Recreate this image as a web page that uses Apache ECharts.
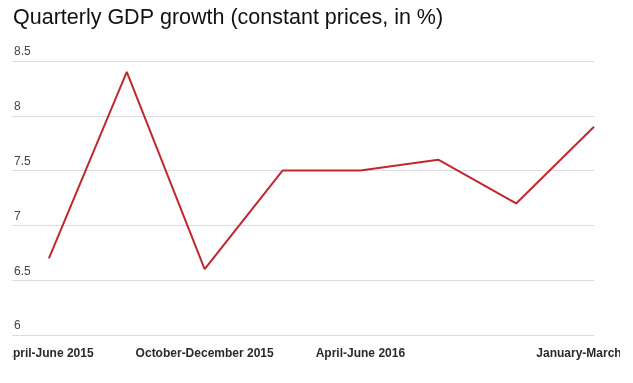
<!DOCTYPE html>
<html>
<head>
<meta charset="utf-8">
<script src="https://cdn.jsdelivr.net/npm/echarts@6/dist/echarts.min.js"></script>
<style>
html,body{margin:0;padding:0;background:#fff;width:633px;height:383px;overflow:hidden;}
#c{position:absolute;left:12px;top:0;width:608px;height:383px;}
</style>
</head>
<body>
<div id="c"></div>
<script>
const categories = ["April-June 2015","July-September 2015","October-December 2015","January-March 2016","April-June 2016","July-September 2016","October-December 2016","January-March 2017"];
const growth = [6.7, 8.4, 6.6, 7.5, 7.5, 7.6, 7.2, 7.9];
const shownLabels = [0, 2, 4, 7];
const titleText = "Quarterly GDP growth (constant prices, in %)";

const chart = echarts.init(document.getElementById('c'), null, {renderer:'canvas'});
const font = "'Liberation Sans', Arial, sans-serif";
chart.setOption({
  animation:false,
  backgroundColor:'#fff',
  title:{text:titleText,left:1,top:7,padding:0,textStyle:{fontSize:21.5,fontWeight:'normal',color:'#111',fontFamily:font}},
  grid:{left:0,right:26,top:61,bottom:48,containLabel:false,outerBoundsMode:'none'},
  xAxis:{type:'value',min:-0.474,max:7,
    axisLine:{show:false},axisTick:{show:false},splitLine:{show:false},
    axisLabel:{customValues:shownLabels,formatter:v=>categories[v],margin:13,fontSize:12,fontWeight:'bold',color:'#2a2a2a',fontFamily:font,hideOverlap:false,alignMinLabel:'center',alignMaxLabel:'center'}},
  yAxis:{type:'value',min:6,max:8.5,interval:0.5,
    axisLine:{show:false},axisTick:{show:false},
    splitLine:{lineStyle:{color:'#dcdcdc',width:1}},
    axisLabel:{inside:true,margin:2,verticalAlign:'bottom',padding:[0,0,3,0],fontSize:12,color:'#444',fontFamily:font,formatter:v=>String(v)}},
  series:[{type:'line',data:growth.map((v,i)=>[i,v]),symbol:'none',lineStyle:{color:'#c0282d',width:2},clip:false}]
});
</script>
</body>
</html>
